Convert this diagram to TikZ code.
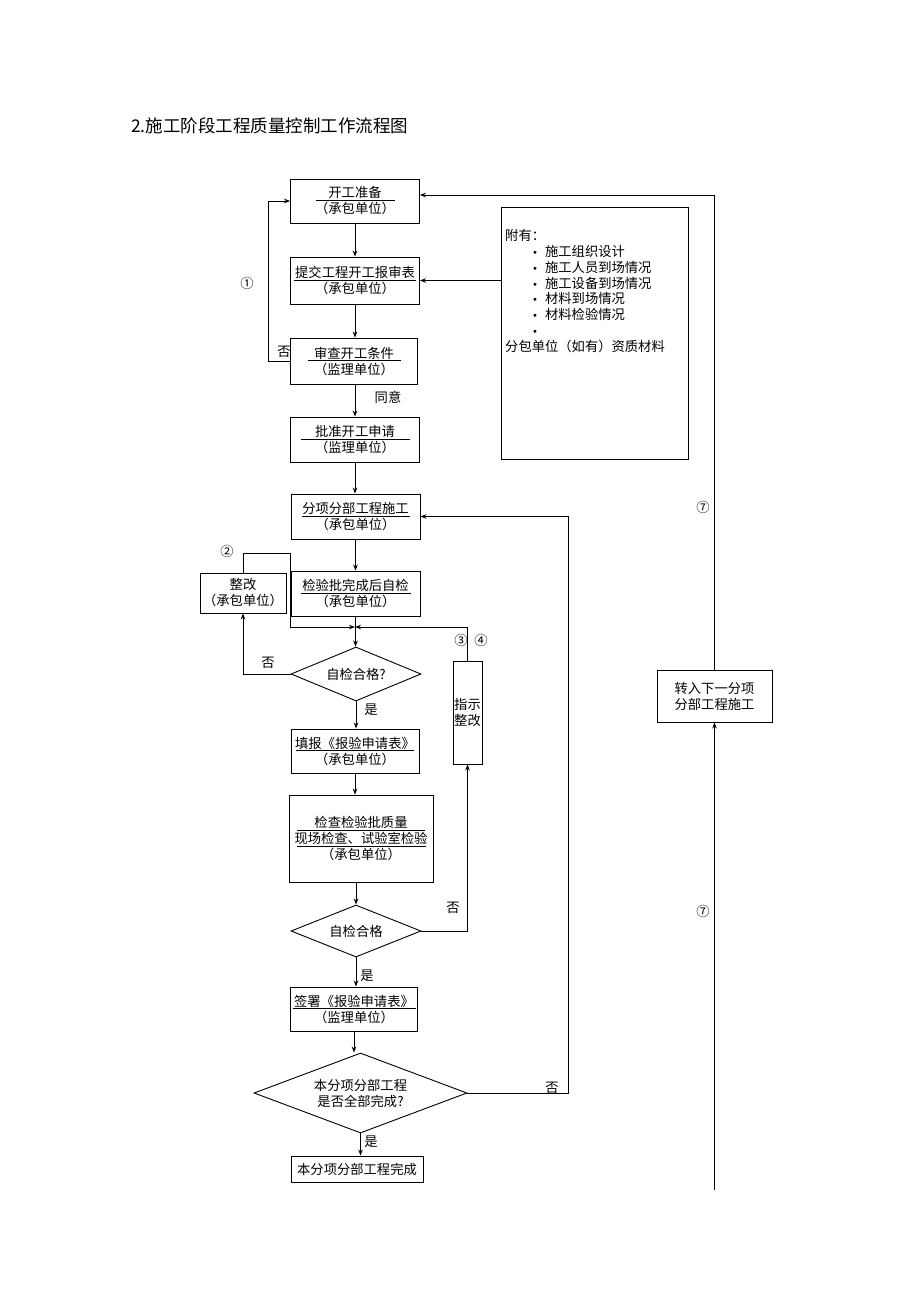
\documentclass[tikz,border=0pt]{standalone}
\usepackage{fontspec}
\setmainfont{Noto Sans CJK SC}
\newfontfamily\dejavu{DejaVu Sans}
\usetikzlibrary{shapes.geometric,arrows.meta}
\newcommand\ulw[2]{\underline{\makebox[#1]{#2}}}
\newcommand\bul{\hspace*{27pt}{\dejavu\fontsize{10}{12}\selectfont •}\hspace{7pt}}
\begin{document}
\begin{tikzpicture}[x=1pt,y=-1pt,
  txt/.style={font=\fontsize{13.3}{16}\selectfont},
  box/.style={draw,line width=0.9pt,align=center,txt,inner sep=0pt},
  dia/.style={draw,diamond,line width=0.9pt,align=center,txt,inner sep=0pt},
  lbl/.style={txt,inner sep=0pt},
  arr/.style={line width=0.8pt,-{Stealth[length=6pt,width=4.5pt]}},
  ln/.style={line width=0.8pt}]
\useasboundingbox (0,0) rectangle (920,1301);
\node[anchor=west,inner sep=0pt,font=\fontsize{17.5}{20}\selectfont] (title) at (131,126) {2.施工阶段工程质量控制工作流程图};

\node[box,minimum width=129pt,minimum height=44pt] (b1) at (355,201) {\ulw{79pt}{开工准备}\\（承包单位）};
\node[box,minimum width=129pt,minimum height=47pt] (b2) at (355,280.5) {\ulw{122pt}{提交工程开工报审表}\\（承包单位）};
\node[box,minimum width=127pt,minimum height=46pt] (b3) at (354,361) {\ulw{93pt}{审查开工条件}\\（监理单位）};
\node[box,minimum width=129pt,minimum height=45pt] (b4) at (355,439.5) {\ulw{109pt}{批准开工申请}\\（监理单位）};
\node[box,minimum width=129pt,minimum height=45pt] (b5) at (355.5,516.5) {\ulw{108pt}{分项分部工程施工}\\（承包单位）};
\node[box,minimum width=129pt,minimum height=45pt] (b6) at (355.5,593.5) {\ulw{110pt}{检验批完成后自检}\\（承包单位）};
\node[box,minimum width=86pt,minimum height=40pt] (rw) at (243,593) {整改\\（承包单位）};
\node[dia,minimum width=130pt,minimum height=54pt,aspect=2.4] (d1) at (356,674) {自检合格?};
\node[box,minimum width=29pt,minimum height=103pt] (zs) at (467.5,712.5) {指示\\整改};
\node[box,minimum width=128pt,minimum height=44pt] (b7) at (355,751) {\ulw{118pt}{填报《报验申请表》}\\（承包单位）};
\node[box,minimum width=144pt,minimum height=87pt] (b8) at (361,838.5) {\ulw{128pt}{检查检验批质量}\\\ulw{129pt}{现场检查、试验室检验}\\（承包单位）};
\node[dia,minimum width=130pt,minimum height=52pt,aspect=2.5] (d2) at (356,931) {自检合格};
\node[box,minimum width=127pt,minimum height=44pt] (b9) at (354,1009) {\ulw{123pt}{签署《报验申请表》}\\（监理单位）};
\node[dia,minimum width=213pt,minimum height=80pt,aspect=2.66] (d3) at (360.5,1093) {本分项分部工程\\是否全部完成?};
\node[box,minimum width=132pt,minimum height=26pt] (b10) at (357,1169) {本分项分部工程完成};
\node[box,minimum width=115pt,minimum height=52pt] (tr) at (714.5,696) {转入下一分项\\分部工程施工};
\node[draw,line width=0.9pt,minimum width=187pt,minimum height=252pt,inner sep=0pt] (att) at (594.5,333) {};
\node[anchor=north west,align=left,inner sep=0pt,font=\fontsize{13.3}{15.9}\selectfont] (attt) at (505,229) {附有：\\
\bul 施工组织设计\\
\bul 施工人员到场情况\\
\bul 施工设备到场情况\\
\bul 材料到场情况\\
\bul 材料检验情况\\
\bul\\
分包单位（如有）资质材料};

% labels
\node[lbl] (l1) at (247,283) {①};
\node[lbl] (lno1) at (284,352) {否};
\node[lbl] (lok) at (388,397) {同意};
\node[lbl] (l2) at (227,551) {②};
\node[lbl] (lno2) at (268,663) {否};
\node[lbl] (l3) at (461,640) {③};
\node[lbl] (l4) at (481,640) {④};
\node[lbl] (lyes1) at (371,710) {是};
\node[lbl] (lno3) at (453,908) {否};
\node[lbl] (lyes2) at (367,976) {是};
\node[lbl] (lno4) at (552,1088) {否};
\node[lbl] (lyes3) at (371,1142) {是};
\node[lbl] (l7a) at (703,507) {⑦};
\node[lbl] (l7b) at (703,911) {⑦};

% coordinates
\coordinate (m) at (355,627);
\coordinate (c1) at (268,361);
\coordinate (c2a) at (290,553);
\coordinate (c2b) at (290,627);
\coordinate (c3) at (568,1093);
\coordinate (c7) at (0,195);
\coordinate (c8) at (714.5,1190);

% main column
\draw[arr] (b1.south) -- (b1.south |- b2.north);
\draw[arr] (b2.south) -- (b2.south |- b3.north);
\draw[arr] (b3.south -| b2.south) -- (b2.south |- b4.north);
\draw[arr] (b4.south) -- (b4.south |- b5.north);
\draw[arr] (b5.south) -- (b5.south |- b6.north);
\draw[arr] (b6.south) -- (b6.south |- d1.north);
\draw[arr] (d1.south) -- (d1.south |- b7.north);
\draw[arr] (b7.south) -- (b7.south |- b8.north);
\draw[arr] (b8.south -| d2.north) -- (d2.north);
\draw[arr] (d2.south) -- (d2.south |- b9.north);
\draw[arr] (b9.south) -- (b9.south |- d3.north);
\draw[arr] (d3.south) -- (d3.south |- b10.north);

% loops
\draw[arr] (b3.west) -- (c1) |- (b1.west);
\draw[arr] (att.west |- b2.east) -- (b2.east);
\draw[arr] (tr.north) |- (b1.east |- c7);
\draw[arr] (c8) -- (tr.south);
\draw[arr] (rw.north) |- (c2a) -- (c2b) -- (m);
\draw[arr] (zs.north) |- (m);
\draw[arr] (d1.west) -| (rw.south);
\draw[arr] (d2.east) -| (zs.south);
\draw[arr] (d3.east) -- (c3) |- (b5.east);
\end{tikzpicture}
\end{document}
